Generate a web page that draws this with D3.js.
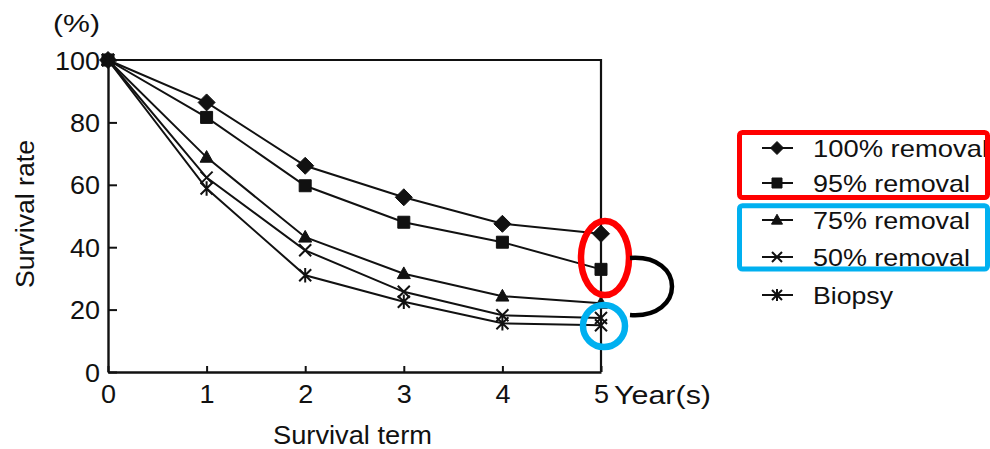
<!DOCTYPE html>
<html><head><meta charset="utf-8">
<script src="https://cdn.jsdelivr.net/npm/d3@7"></script>
<style>
body{margin:0;background:#fff}
svg{display:block}
text{font-family:"Liberation Sans",Arial,Helvetica,sans-serif;fill:#111}
</style>
</head><body>
<svg id="c" width="990" height="449"></svg>
<script>
// ---- data ----
const years = [0, 1, 2, 3, 4, 5];
const xTickLabels = ["0", "1", "2", "3", "4", "5"];
const yTickValues = [0, 20, 40, 60, 80, 100];
const seriesNames = ["100% removal", "95% removal", "75% removal", "50% removal", "Biopsy"];
const markerTypes = ["diamond", "square", "triangle", "cross", "asterisk"];
const removal100 = [100, 86.4, 66.1, 56.0, 47.5, 44.3];
const removal95  = [100, 81.6, 59.7, 48.0, 41.6, 32.9];
const removal75  = [100, 68.8, 43.2, 31.5, 24.3, 22.0];
const removal50  = [100, 62.3, 39.0, 25.7, 18.2, 17.3];
const biopsy     = [100, 58.8, 31.0, 22.5, 15.6, 15.0];
const seriesValues = [removal100, removal95, removal75, removal50, biopsy];

// ---- layout ----
const svg = d3.select("#c");
const X0 = 108, X1 = 601, Y0 = 372, Y1 = 60;
const x = d3.scaleLinear().domain([0, 5]).range([X0, X1]);
const y = d3.scaleLinear().domain([0, 100]).range([Y0, Y1]);
const ink = "#111";

function marker(type, s) {
  switch (type) {
    case "diamond": return `M0,${-s}L${s},0L0,${s}L${-s},0Z`;
    case "square": return `M${-s},${-s}H${s}V${s}H${-s}Z`;
    case "triangle": return `M0,${-s*1.05}L${s},${s*0.75}L${-s},${s*0.75}Z`;
    case "cross": return `M${-s},${-s}L${s},${s}M${-s},${s}L${s},${-s}`;
    case "asterisk": return `M${-s},${-s}L${s},${s}M${-s},${s}L${s},${-s}M0,${-s*1.2}L0,${s*1.2}`;
  }
}
const plotSize = {diamond: 8.5, square: 6, triangle: 6.5, cross: 6, asterisk: 6};
const legSize = {diamond: 6.5, square: 5, triangle: 5.5, cross: 5, asterisk: 5};
function drawMarker(g, type, s) {
  const filled = (type === "diamond" || type === "square" || type === "triangle");
  g.append("path").attr("d", marker(type, s))
    .attr("fill", filled ? ink : "none")
    .attr("stroke", ink).attr("stroke-width", filled ? 1 : 2);
}

// frame (top and right)
svg.append("path")
  .attr("d", `M${X0},${Y1}H${X1}V${Y0}`)
  .attr("fill", "none").attr("stroke", ink).attr("stroke-width", 2.2);

// axes
const yAxis = d3.axisLeft(y).tickValues(yTickValues).tickSize(-9).tickSizeOuter(0).tickPadding(8);
const gy = svg.append("g").attr("transform", `translate(${X0},0)`).call(yAxis);
gy.select(".domain").attr("stroke", ink).attr("stroke-width", 2.4);
gy.selectAll(".tick line").attr("stroke", ink).attr("stroke-width", 2);
gy.selectAll(".tick text").attr("font-size", 25).attr("fill", ink)
  .attr("font-family", '"Liberation Sans",Arial,sans-serif')
  .attr("dy", "0.36em")
  .each(function(){ const t = d3.select(this).text(); d3.select(this).attr("textLength", 15*t.length).attr("lengthAdjust","spacingAndGlyphs"); });

const xAxis = d3.axisBottom(x).tickValues(years).tickFormat((d,i) => xTickLabels[i]).tickSize(-6).tickSizeOuter(0).tickPadding(13);
const gx = svg.append("g").attr("transform", `translate(0,${Y0})`).call(xAxis);
gx.select(".domain").attr("stroke", ink).attr("stroke-width", 2.4);
gx.selectAll(".tick line").attr("stroke", ink).attr("stroke-width", 2);
gx.selectAll(".tick text").attr("font-size", 25).attr("fill", ink)
  .attr("font-family", '"Liberation Sans",Arial,sans-serif')
  .attr("textLength", 15).attr("lengthAdjust","spacingAndGlyphs");

// axis texts
svg.append("text").attr("x", 53).attr("y", 32).attr("font-size", 23)
  .attr("textLength", 47).attr("lengthAdjust","spacingAndGlyphs").text("(%)");
svg.append("text").attr("x", 614).attr("y", 404).attr("font-size", 26)
  .attr("textLength", 97).attr("lengthAdjust","spacingAndGlyphs").text("Year(s)");
svg.append("text").attr("x", 273).attr("y", 444).attr("font-size", 26)
  .attr("textLength", 159).attr("lengthAdjust","spacingAndGlyphs").text("Survival term");
svg.append("text").attr("transform", "translate(34,288) rotate(-90)").attr("font-size", 26)
  .attr("textLength", 148).attr("lengthAdjust","spacingAndGlyphs").text("Survival rate");

// series
const line = d3.line().x((d,i) => x(years[i])).y(d => y(d));
seriesValues.forEach((vals, k) => {
  svg.append("path").datum(vals).attr("d", line)
    .attr("fill", "none").attr("stroke", ink).attr("stroke-width", 2);
});
seriesValues.forEach((vals, k) => {
  vals.forEach((v, i) => {
    const g = svg.append("g").attr("transform", `translate(${x(years[i])},${y(v)})`);
    drawMarker(g, markerTypes[k], plotSize[markerTypes[k]]);
  });
});

// legend
const legRowY = [148, 183, 220, 257, 295];
const legTextLen = [175, 157, 157, 157, 80];
seriesNames.forEach((name, k) => {
  const g = svg.append("g").attr("transform", `translate(0,${legRowY[k]})`);
  g.append("line").attr("x1", 762).attr("x2", 793).attr("y1", 0).attr("y2", 0)
    .attr("stroke", ink).attr("stroke-width", 2);
  const m = g.append("g").attr("transform", "translate(777,0)");
  drawMarker(m, markerTypes[k], legSize[markerTypes[k]]);
  g.append("text").attr("x", 813).attr("y", 9).attr("font-size", 24)
    .attr("textLength", legTextLen[k]).attr("lengthAdjust","spacingAndGlyphs").text(name);
});

// annotations
svg.append("rect").attr("x", 739.5).attr("y", 132.5).attr("width", 248).attr("height", 65)
  .attr("rx", 3).attr("fill", "none").attr("stroke", "#ff0000").attr("stroke-width", 5);
svg.append("rect").attr("x", 739.5).attr("y", 205.7).attr("width", 248).attr("height", 63.3)
  .attr("rx", 3).attr("fill", "none").attr("stroke", "#00b0f0").attr("stroke-width", 5);
svg.append("ellipse").attr("cx", 605).attr("cy", 258).attr("rx", 24).attr("ry", 37)
  .attr("fill", "none").attr("stroke", "#ff0000").attr("stroke-width", 6.5);
svg.append("circle").attr("cx", 604).attr("cy", 326).attr("r", 21)
  .attr("fill", "none").attr("stroke", "#00b0f0").attr("stroke-width", 6.5);
svg.append("path").attr("d", "M630,258C686,254 686,319 630,315")
  .attr("fill", "none").attr("stroke", "#000").attr("stroke-width", 4.5);
</script>
</body></html>
